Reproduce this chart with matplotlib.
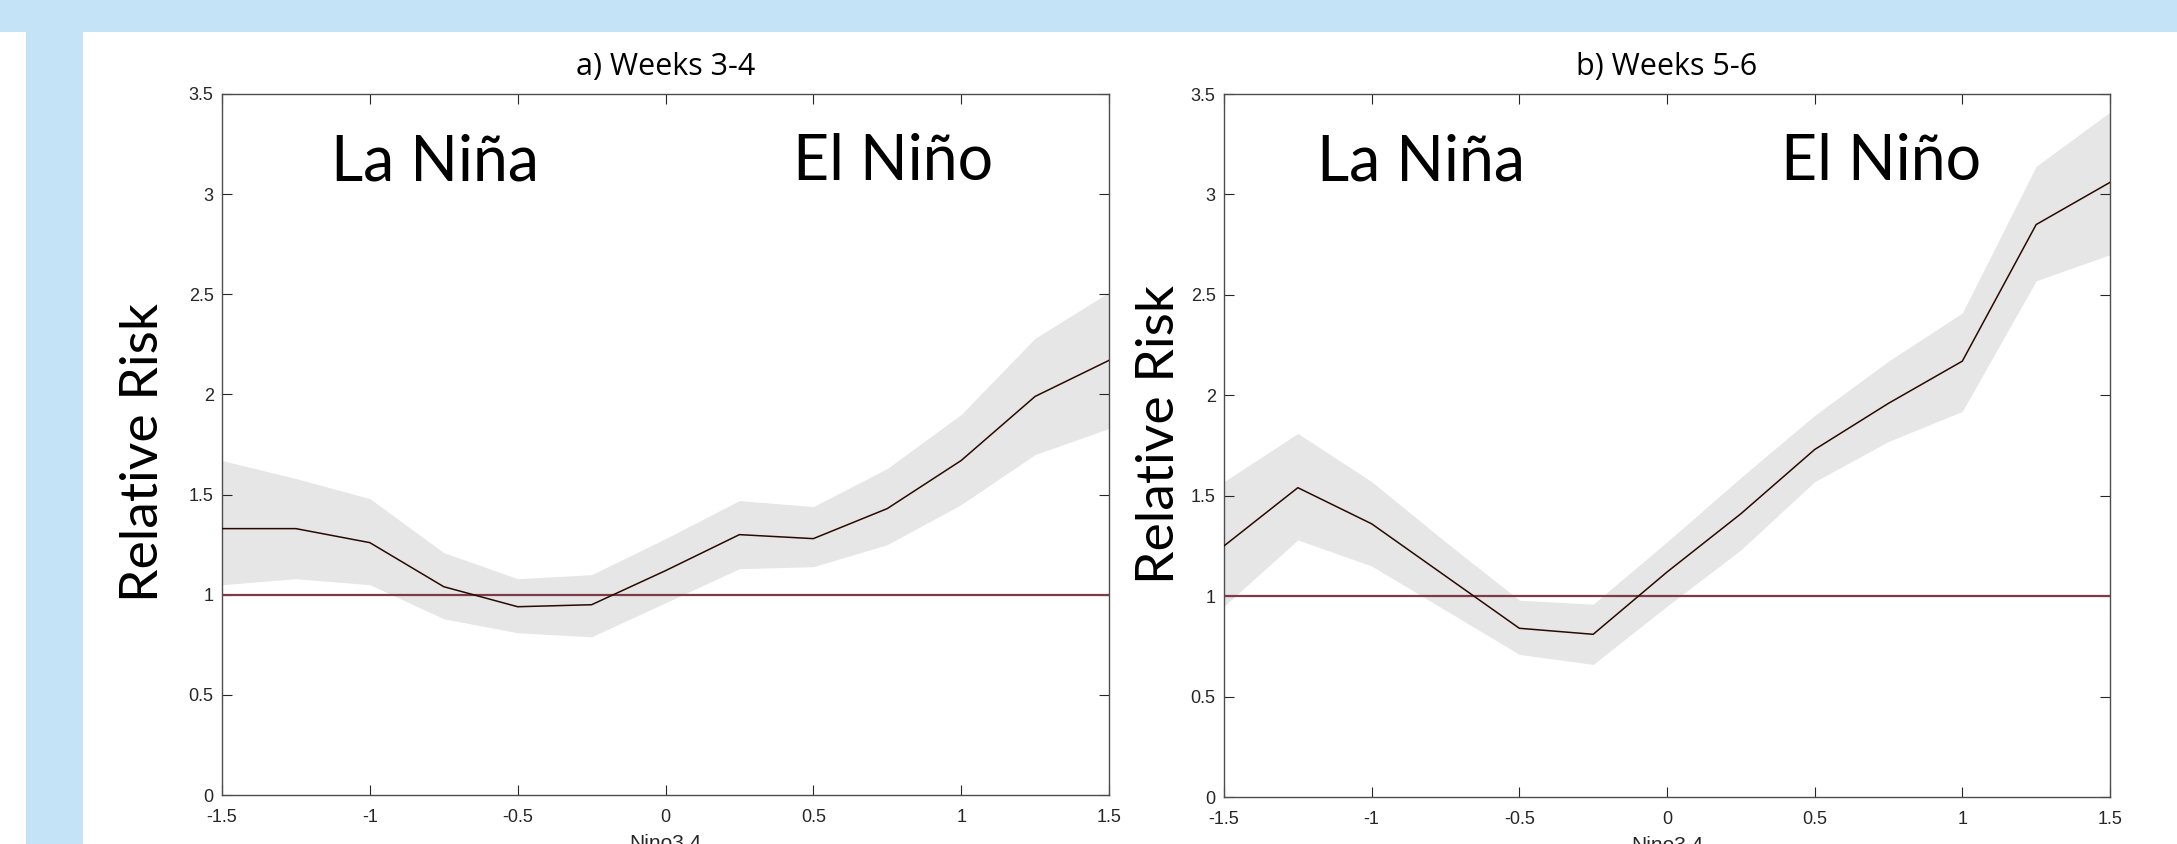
import numpy as np
import matplotlib
matplotlib.use("Agg")
import matplotlib.pyplot as plt
from matplotlib.patches import Rectangle

plt.rcParams['axes.unicode_minus'] = False

# Nino3.4 bins
nino = [-1.5, -1.25, -1.0, -0.75, -0.5, -0.25, 0.0, 0.25, 0.5, 0.75, 1.0, 1.25, 1.5]

# a) Weeks 3-4
rr_a = [1.33, 1.33, 1.26, 1.04, 0.94, 0.95, 1.12, 1.30, 1.28, 1.43, 1.67, 1.99, 2.17]
hi_a = [1.67, 1.58, 1.48, 1.21, 1.08, 1.10, 1.28, 1.47, 1.44, 1.63, 1.90, 2.28, 2.51]
lo_a = [1.05, 1.08, 1.05, 0.88, 0.81, 0.79, 0.96, 1.13, 1.14, 1.25, 1.45, 1.70, 1.83]

# b) Weeks 5-6
rr_b = [1.25, 1.54, 1.36, 1.10, 0.84, 0.81, 1.12, 1.41, 1.73, 1.96, 2.17, 2.85, 3.06]
hi_b = [1.57, 1.81, 1.57, 1.27, 0.98, 0.96, 1.27, 1.59, 1.90, 2.17, 2.41, 3.14, 3.41]
lo_b = [0.95, 1.28, 1.15, 0.93, 0.71, 0.66, 0.95, 1.23, 1.57, 1.77, 1.92, 2.57, 2.70]

titles = ["a) Weeks 3-4", "b) Weeks 5-6"]
yticks = [0, 0.5, 1, 1.5, 2, 2.5, 3, 3.5]
xticks = [-1.5, -1, -0.5, 0, 0.5, 1, 1.5]

W, H = 2177, 844
fig = plt.figure(figsize=(W / 100, H / 100), dpi=100)

# light blue slide frame
blue = "#c5e3f7"
fig.patches.append(Rectangle((0, 1 - 32 / H), 1, 32 / H, transform=fig.transFigure,
                             facecolor=blue, edgecolor="none", zorder=0))
fig.patches.append(Rectangle((26 / W, 0), 57 / W, 1 - 32 / H, transform=fig.transFigure,
                             facecolor=blue, edgecolor="none", zorder=0))

ax1 = fig.add_axes([222 / W, 49 / H, 887 / W, 701 / H])
ax2 = fig.add_axes([1224 / W, 47 / H, 886 / W, 703 / H])

panels = [
    (ax1, rr_a, hi_a, lo_a, -0.78, 0.77, -0.088, 0.488),
    (ax2, rr_b, hi_b, lo_b, -0.833, 0.725, -0.073, 0.516),
]

for i, (ax, rr, hi, lo, xla, xel, ylx, yly) in enumerate(panels):
    ax.fill_between(nino, lo, hi, color="#e6e6e6", lw=0, zorder=1)
    ax.axhline(1, color="#7f3a48", lw=1.6, zorder=2)
    ax.plot(nino, rr, color="#2a0a00", lw=1.1, zorder=3)

    ax.set_xlim(-1.5, 1.5)
    ax.set_ylim(0, 3.5)
    ax.set_xticks(xticks)
    ax.set_yticks(yticks)
    ax.set_xticklabels(["%g" % t for t in xticks])
    ax.set_yticklabels(["%g" % t for t in yticks])
    ax.tick_params(direction="in", top=True, right=True, length=7, width=0.8,
                   color="#262626", labelsize=13, labelcolor="#262626")
    ax.tick_params(axis="x", pad=10)
    ax.tick_params(axis="y", pad=6)
    for lab in ax.get_xticklabels() + ax.get_yticklabels():
        lab.set_family("Liberation Sans")
    for s in ax.spines.values():
        s.set_color("#4d4d4d")
        s.set_linewidth(1.0)

    ax.set_title(titles[i], fontsize=22, family="Open Sans", pad=14)
    ax.set_xlabel("Nino3.4", fontsize=15, family="Liberation Sans", labelpad=6,
                  color="#262626")

    ax.text(xla, 3.07, "La Niña", fontsize=45, family="Lato", ha="center", va="baseline")
    ax.text(xel, 3.07, "El Niño", fontsize=45, family="Lato", ha="center", va="baseline")
    ax.text(ylx, yly, "Relative Risk", fontsize=38.5, family="Lato", rotation=90,
            ha="center", va="center", transform=ax.transAxes)

fig.savefig("out.png", dpi=100)
